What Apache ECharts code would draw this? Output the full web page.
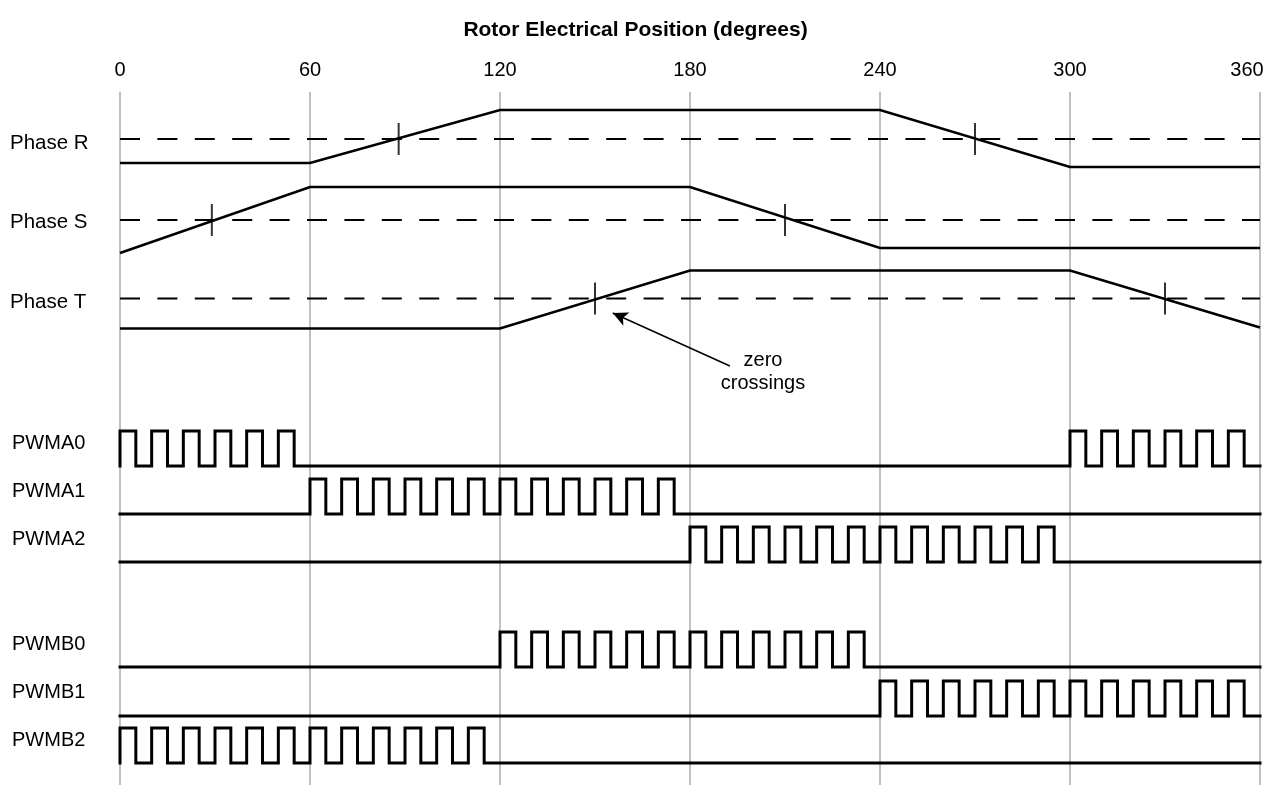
<!DOCTYPE html>
<html>
<head>
<meta charset="utf-8">
<script src="https://cdn.jsdelivr.net/npm/echarts@6/dist/echarts.min.js"></script>
<style>
  html, body { margin: 0; padding: 0; background: #fff; }
  #chart { width: 1271px; height: 785px; }
</style>
</head>
<body>
<div id="chart"></div>
<script>
// ---------- DATA ----------
const xTicks = [0, 60, 120, 180, 240, 300, 360];
const axisTitle = 'Rotor Electrical Position (degrees)';

// Phase back-EMF waveforms: [angle, level relative to the dashed zero line]
const phaseNames = ['Phase R', 'Phase S', 'Phase T'];
const phaseR = [[0, -24], [60, -24], [120, 29], [240, 29], [300, -28], [360, -28]];
const phaseS = [[0, -33], [60, 33], [180, 33], [240, -28], [360, -28]];
const phaseT = [[0, -30], [120, -30], [180, 28], [300, 28], [360, -29]];
// zero-crossing tick marks (angles)
const crossR = [88, 270];
const crossS = [29, 210];
const crossT = [150, 330];

// PWM channels: rising and falling edge angles
const pwmNames = ['PWMA0', 'PWMA1', 'PWMA2', 'PWMB0', 'PWMB1', 'PWMB2'];
const pwmA0Rise = [0, 10, 20, 30, 40, 50, 300, 310, 320, 330, 340, 350];
const pwmA0Fall = [5, 15, 25, 35, 45, 55, 305, 315, 325, 335, 345, 355];
const pwmA1Rise = [60, 70, 80, 90, 100, 110, 120, 130, 140, 150, 160, 170];
const pwmA1Fall = [65, 75, 85, 95, 105, 115, 125, 135, 145, 155, 165, 175];
const pwmA2Rise = [180, 190, 200, 210, 220, 230, 240, 250, 260, 270, 280, 290];
const pwmA2Fall = [185, 195, 205, 215, 225, 235, 245, 255, 265, 275, 285, 295];
const pwmB0Rise = [120, 130, 140, 150, 160, 170, 180, 190, 200, 210, 220, 230];
const pwmB0Fall = [125, 135, 145, 155, 165, 175, 185, 195, 205, 215, 225, 235];
const pwmB1Rise = [240, 250, 260, 270, 280, 290, 300, 310, 320, 330, 340, 350];
const pwmB1Fall = [245, 255, 265, 275, 285, 295, 305, 315, 325, 335, 345, 355];
const pwmB2Rise = [0, 10, 20, 30, 40, 50, 60, 70, 80, 90, 100, 110];
const pwmB2Fall = [5, 15, 25, 35, 45, 55, 65, 75, 85, 95, 105, 115];

// annotation
const noteText = ['zero', 'crossings'];

// ---------- LAYOUT (vertical layout units, top-down) ----------
const layout = {
  gridTop: 92, gridHeight: 693,
  phaseBase: [47, 128, 206.5],
  pwmBase: [374, 422, 470, 575, 624, 671],
  pwmAmp: 35,
  phaseLabelY: [143, 222, 302],
  pwmLabelY: [443, 491, 539, 644, 692, 740],
  arrowFrom: [192.6, 274], arrowTo: [155.6, 221],
  noteX: 763, noteY: [360, 383]
};

const FONT = '"Liberation Sans", Arial, Helvetica, sans-serif';
const BLACK = '#000';

function phaseSeries(pts, base) {
  return pts.map(p => [p[0], base - p[1]]);
}
function pwmSeries(rise, fall, base, amp) {
  const out = [[0, base]];
  for (let i = 0; i < rise.length; i++) {
    out.push([rise[i], base], [rise[i], base - amp], [fall[i], base - amp], [fall[i], base]);
  }
  out.push([360, base]);
  return out;
}

const series = [];
const phases = [phaseR, phaseS, phaseT];
const crosses = [crossR, crossS, crossT];
phases.forEach((ph, i) => {
  const base = layout.phaseBase[i];
  series.push({
    type: 'line', name: phaseNames[i] + ' zero', data: [[0, base], [360, base]],
    symbol: 'none', silent: true, z: 2,
    lineStyle: { color: BLACK, width: 2, type: [20, 17.4] }
  });
  series.push({
    type: 'line', name: phaseNames[i], data: phaseSeries(ph, base),
    symbol: 'none', silent: true, z: 3,
    lineStyle: { color: BLACK, width: 2.6, join: 'miter' }
  });
  series.push({
    type: 'scatter', name: phaseNames[i] + ' crossings', data: crosses[i].map(a => [a, base]),
    symbol: 'rect', symbolSize: [2, 32], silent: true, z: 4,
    itemStyle: { color: BLACK }
  });
});
// arrow annotation attached to Phase T
series[series.length - 2].markLine = {
  silent: true, symbol: ['none', 'arrow'], symbolSize: [11, 15],
  label: { show: false },
  lineStyle: { color: BLACK, width: 1.5, type: 'solid' },
  data: [[{ coord: layout.arrowFrom }, { coord: layout.arrowTo }]]
};

const pwmRise = [pwmA0Rise, pwmA1Rise, pwmA2Rise, pwmB0Rise, pwmB1Rise, pwmB2Rise];
const pwmFall = [pwmA0Fall, pwmA1Fall, pwmA2Fall, pwmB0Fall, pwmB1Fall, pwmB2Fall];
pwmNames.forEach((n, i) => {
  series.push({
    type: 'line', name: n,
    data: pwmSeries(pwmRise[i], pwmFall[i], layout.pwmBase[i], layout.pwmAmp),
    symbol: 'none', silent: true, z: 3,
    lineStyle: { color: BLACK, width: 3, join: 'miter', cap: 'square' }
  });
});

const graphics = [];
phaseNames.forEach((n, i) => graphics.push({
  type: 'text', x: 10, y: layout.phaseLabelY[i],
  style: { text: n, font: '20.5px ' + FONT, fill: BLACK, textAlign: 'left', textVerticalAlign: 'middle' }
}));
pwmNames.forEach((n, i) => graphics.push({
  type: 'text', x: 12, y: layout.pwmLabelY[i],
  style: { text: n, font: '20px ' + FONT, fill: BLACK, textAlign: 'left', textVerticalAlign: 'middle' }
}));
noteText.forEach((t, i) => graphics.push({
  type: 'text', x: layout.noteX, y: layout.noteY[i],
  style: { text: t, font: '20px ' + FONT, fill: BLACK, textAlign: 'center', textVerticalAlign: 'middle' }
}));

const xMax = xTicks[xTicks.length - 1];
const chart = echarts.init(document.getElementById('chart'), null, { renderer: 'canvas' });
chart.setOption({
  animation: false,
  backgroundColor: '#fff',
  title: {
    text: axisTitle, left: 'center', top: 15,
    textStyle: { fontFamily: FONT, fontSize: 21, fontWeight: 'bold', color: BLACK }
  },
  grid: {
    left: 120, right: 11, top: layout.gridTop, height: layout.gridHeight,
    containLabel: false, outerBoundsMode: 'none'
  },
  xAxis: {
    type: 'value', position: 'top', min: xTicks[0], max: xMax,
    interval: xTicks[1] - xTicks[0],
    axisLine: { show: false }, axisTick: { show: false },
    axisLabel: {
      fontFamily: FONT, fontSize: 20, color: BLACK, margin: 12,
      formatter: v => (v === xMax ? '{last|' + v + '}' : String(v)),
      rich: { last: { fontFamily: FONT, fontSize: 20, color: BLACK, padding: [0, 26, 0, 0] } }
    },
    splitLine: { show: true, lineStyle: { color: '#c0c0c0', width: 2 } }
  },
  yAxis: {
    type: 'value', min: 0, max: layout.gridHeight, inverse: true, show: false,
    splitLine: { show: false }
  },
  series: series,
  graphic: graphics
});
</script>
</body>
</html>
